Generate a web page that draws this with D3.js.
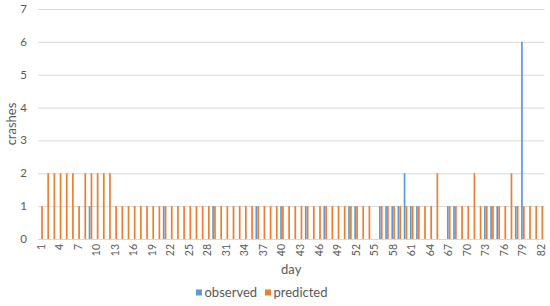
<!DOCTYPE html>
<html lang="en">
<head>
<meta charset="UTF-8">
<title>crashes</title>
<script src="https://cdn.jsdelivr.net/npm/d3@7"></script>
<style>
  body { margin: 0; background: #fff; }
  text { font-family: Lato, "Liberation Sans", sans-serif; fill: #595959; }
</style>
</head>
<body>
<script>
// days 1..82
const days = d3.range(1, 83);
const series = ["observed", "predicted"];
const yTicks = [0, 1, 2, 3, 4, 5, 6, 7];
const xTickDays = days.filter(d => (d - 1) % 3 === 0); // 1, 4, 7 ... 82

const observed = [
  0,0,0,0,0,0,0,0,1,0, 0,0,0,0,0,0,0,0,0,0,
  1,0,0,0,0,0,0,0,1,0, 0,0,0,0,0,1,0,0,0,1,
  0,0,0,1,0,0,1,0,0,0, 1,1,0,0,0,1,1,1,1,2,
  1,1,0,0,0,0,1,1,0,0, 0,0,1,1,1,0,0,1,6,0,
  0,0
];
const predicted = [
  1,2,2,2,2,2,1,2,2,2, 2,2,1,1,1,1,1,1,1,1,
  1,1,1,1,1,1,1,1,1,1, 1,1,1,1,1,1,1,1,1,1,
  1,1,1,1,1,1,1,1,1,1, 1,1,1,1,0,1,1,1,1,1,
  1,1,1,1,2,0,1,1,1,1, 2,1,1,1,1,1,2,1,1,1,
  1,1
];
const colors = { observed: "#5B9BD5", predicted: "#ED7D31" };

const width = 550, height = 306;
const plot = { left: 38, right: 544.5, top: 9, bottom: 239 };

const svg = d3.select("body").append("svg")
  .attr("width", width)
  .attr("height", height);

const x0 = d3.scaleBand()
  .domain(days)
  .range([plot.left, plot.right])
  .paddingInner(0.42)
  .paddingOuter(0.21);

const x1 = d3.scaleBand()
  .domain(series)
  .range([0, x0.bandwidth()])
  .paddingInner(0.1);

const y = d3.scaleLinear()
  .domain([0, 7])
  .range([plot.bottom, plot.top]);

// gridlines
svg.append("g")
  .selectAll("line")
  .data(yTicks)
  .join("line")
  .attr("x1", plot.left)
  .attr("x2", plot.right)
  .attr("y1", d => y(d) + 0.5)
  .attr("y2", d => y(d) + 0.5)
  .attr("stroke", "#d9d9d9")
  .attr("stroke-width", 1);

// y tick labels
svg.append("g")
  .selectAll("text")
  .data(yTicks)
  .join("text")
  .attr("x", 27)
  .attr("y", d => y(d))
  .attr("dy", "0.35em")
  .attr("text-anchor", "end")
  .attr("font-size", 11.5)
  .text(d => d);

// bars
const rows = days.map((d, i) => ({ day: d, observed: observed[i], predicted: predicted[i] }));
svg.append("g")
  .selectAll("g")
  .data(rows)
  .join("g")
  .attr("transform", d => `translate(${x0(d.day)},0)`)
  .selectAll("rect")
  .data(d => series.map(s => ({ key: s, value: d[s] })))
  .join("rect")
  .attr("x", d => x1(d.key))
  .attr("width", x1.bandwidth())
  .attr("y", d => y(d.value))
  .attr("height", d => y(0) - y(d.value))
  .attr("fill", d => colors[d.key]);

// x tick labels (rotated)
svg.append("g")
  .selectAll("text")
  .data(xTickDays)
  .join("text")
  .attr("transform", d => `translate(${x0(d) + x0.bandwidth() / 2 + 3.5},244) rotate(-90)`)
  .attr("text-anchor", "end")
  .attr("font-size", 10.5)
  .text(d => d);

// axis titles
svg.append("text")
  .attr("x", (plot.left + plot.right) / 2)
  .attr("y", 274)
  .attr("text-anchor", "middle")
  .attr("font-size", 13)
  .text("day");

svg.append("text")
  .attr("transform", `translate(16,${(plot.top + plot.bottom) / 2}) rotate(-90)`)
  .attr("text-anchor", "middle")
  .attr("font-size", 13)
  .text("crashes");

// legend
const legend = svg.append("g")
  .attr("transform", "translate(196,296)");
const items = legend.selectAll("g")
  .data(series)
  .join("g")
  .attr("transform", (d, i) => `translate(${i * 69},0)`);
items.append("rect")
  .attr("x", 0)
  .attr("y", -6.5)
  .attr("width", 6)
  .attr("height", 6)
  .attr("fill", d => colors[d]);
items.append("text")
  .attr("x", 8.5)
  .attr("y", 0)
  .attr("dy", "0.05em")
  .attr("font-size", 13)
  .text(d => d);
</script>
</body>
</html>
